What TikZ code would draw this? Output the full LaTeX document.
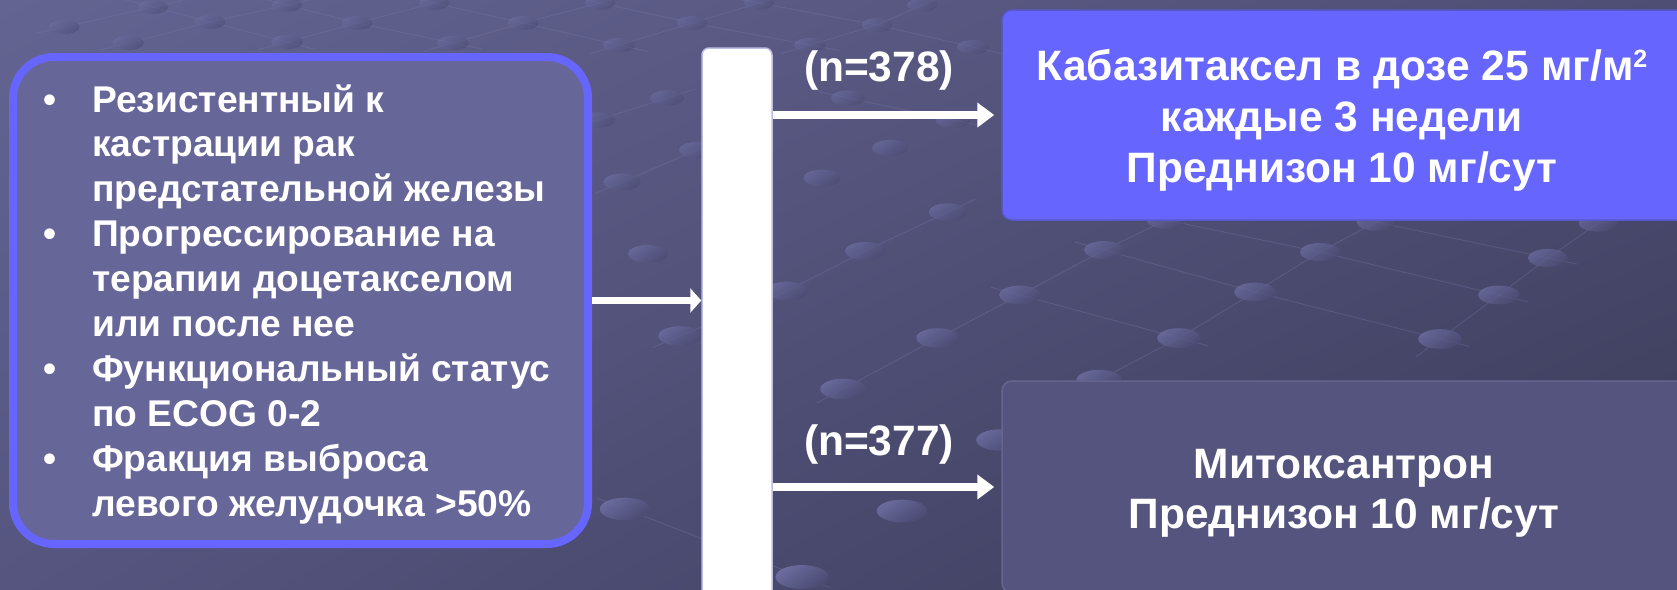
\documentclass[tikz,border=0pt]{standalone}
\usepackage{fontspec}
\setmainfont{Liberation Sans}
\usetikzlibrary{arrows.meta,shadings}
\definecolor{bgUL}{HTML}{646492}
\definecolor{bgUR}{HTML}{4E4E75}
\definecolor{bgLL}{HTML}{555580}
\definecolor{bgLR}{HTML}{3A3A57}
\definecolor{beadhi}{HTML}{6E6EA2}
\definecolor{beadlo}{HTML}{4A4A72}
\definecolor{latcol}{HTML}{7A7AAA}
\definecolor{critfill}{HTML}{666699}
\definecolor{critline}{HTML}{6666FF}
\definecolor{armAfill}{HTML}{6666FF}
\definecolor{armAline}{HTML}{5858C8}
\definecolor{armBfill}{HTML}{54547E}
\definecolor{armBline}{HTML}{64648F}
\definecolor{barline}{HTML}{BDBDE2}
\tikzset{
  latline/.style={draw=latcol, line width=1pt, opacity=0.3, shorten <=-30pt, shorten >=-30pt},
  critbox/.style={draw=critline, fill=critfill, line width=8pt, rounded corners=41pt, minimum width=575pt, minimum height=487pt, inner sep=0pt},
  barbox/.style={draw=barline, fill=white, line width=1.5pt, rounded corners=7pt, minimum width=70pt, minimum height=552pt, inner sep=0pt},
  armAbox/.style={draw=armAline, fill=armAfill, line width=1.5pt, rounded corners=10pt, minimum width=688pt, minimum height=210pt, inner sep=0pt},
  armBbox/.style={draw=armBline, fill=armBfill, line width=1.5pt, rounded corners=10pt, minimum width=688pt, minimum height=212pt, inner sep=0pt},
  arr/.style={draw=white, line width=7.5pt, -{Triangle[length=17pt,width=24pt]}},
  arrshort/.style={draw=white, line width=7.5pt, -{Triangle[length=11pt,width=24pt]}},
  lefttext/.style={anchor=base west, inner sep=0pt, text=white, font=\fontsize{37.2}{44.9}\selectfont\bfseries},
  righttext/.style={anchor=base, inner sep=0pt, text=white, font=\fontsize{42.5}{51}\selectfont\bfseries},
}
\newcommand{\supertwo}{\raisebox{12.5pt}{\fontsize{25}{25}\selectfont 2}}
\begin{document}
\begin{tikzpicture}[x=1pt,y=-1pt]
\useasboundingbox (0,0) rectangle (1677,589);
\clip (0,0) rectangle (1677,589);
% background
\shade[upper left=bgUL, upper right=bgUR, lower left=bgLL, lower right=bgLR] (0,0) rectangle (1677,589);
% lattice lines
\draw[latline] (64,27) -- (153,7);
\draw[latline] (128,43) -- (210,22) -- (287,5);
\draw[latline] (287,42) -- (357,23) -- (434,3);
\draw[latline] (453,43) -- (523,23) -- (600,3);
\draw[latline] (619,45) -- (692,23) -- (759,3);
\draw[latline] (810,45) -- (877,25) -- (922,5);
\draw[latline] (153,7) -- (210,22) -- (287,42);
\draw[latline] (287,5) -- (357,23) -- (453,43);
\draw[latline] (434,3) -- (523,23) -- (619,45);
\draw[latline] (600,3) -- (692,23) -- (810,45);
\draw[latline] (759,3) -- (877,25) -- (973,47);
\draw[latline] (598,120) -- (667,98);
\draw[latline] (622,182) -- (697,150);
\draw[latline] (843,389) -- (938,338) -- (1020,295) -- (1104,250) -- (1166,220);
\draw[latline] (1099,380) -- (1179,338) -- (1255,292) -- (1320,252) -- (1376,222);
\draw[latline] (1440,339) -- (1499,295) -- (1548,258) -- (1598,223);
\draw[latline] (680,336) -- (787,291) -- (865,251) -- (948,212);
\draw[latline] (1020,295) -- (1179,338);
\draw[latline] (1104,250) -- (1255,292) -- (1440,339);
\draw[latline] (1166,220) -- (1320,252) -- (1499,295);
\draw[latline] (1376,222) -- (1548,258);
\draw[latline] (848,98) -- (953,120);
\draw[latline] (625,509) -- (802,577);
% beads
\foreach \bx/\by in {64/27,153/7,210/22,128/43,287/5,287/42,357/23,434/3,453/43,523/23,600/3,619/45,692/23,759/3,810/45,877/25,922/5,973/47,
  667/98,848/98,598/120,953/120,697/150,890/148,622/182,822/178,948/212,648/254,865/251,787/291,680/336,938/338,843/389,1000/440,625/509,902/511,802/577,
  1020/295,1104/250,1166/220,1320/252,1255/292,1179/338,1376/222,1548/258,1499/295,1440/339,1598/223,1099/380}{
  \pgfmathsetmacro\rx{15+0.02*\by}
  \pgfmathsetmacro\bop{0.55+0.0007*\by}
  \shade[top color=beadhi, bottom color=beadlo, shading angle=35, opacity=\bop] (\bx,\by) ellipse [x radius=\rx*1pt, y radius=0.45*\rx*1pt];
}
% boxes
\node[critbox] (crit) at (300.5,300.5) {};
\node[barbox] (bar) at (737,324) {};
\node[armAbox] (armA) at (1346,115) {};
\node[armBbox] (armB) at (1346,487) {};
% connectors
\draw[arrshort] (crit.east) -- (crit.east -| bar.west);
\draw[arr, shorten >=7pt] (armA.west -| bar.east) -- (armA.west);
\draw[arr, shorten >=7pt] (armB.west -| bar.east) -- (armB.west);
% texts
\node[lefttext] (crittext) at (43,112) {\parbox[t]{580pt}{%
\makebox[49pt][l]{\textbullet}Резистентный к\\
\hspace*{49pt}кастрации рак\\
\hspace*{49pt}предстательной железы\\
\makebox[49pt][l]{\textbullet}Прогрессирование на\\
\hspace*{49pt}терапии доцетакселом\\
\hspace*{49pt}или после нее\\
\makebox[49pt][l]{\textbullet}Функциональный статус\\
\hspace*{49pt}по ECOG 0-2\\
\makebox[49pt][l]{\textbullet}Фракция выброса\\
\hspace*{49pt}левого желудочка >50\%}};
\node[righttext] (armAtext) at (1342,80) {\parbox[t]{720pt}{\centering Кабазитаксел в дозе 25 мг/м\supertwo\\каждые 3 недели\\Преднизон 10 мг/сут}};
\node[righttext] (armBtext) at (1344,478) {\parbox[t]{720pt}{\centering\fontsize{42.5}{50}\selectfont Митоксантрон\\Преднизон 10 мг/сут}};
\node[righttext] (nA) at (879,81) {(n=378)};
\node[righttext] (nB) at (879,455) {(n=377)};
\end{tikzpicture}
\end{document}
